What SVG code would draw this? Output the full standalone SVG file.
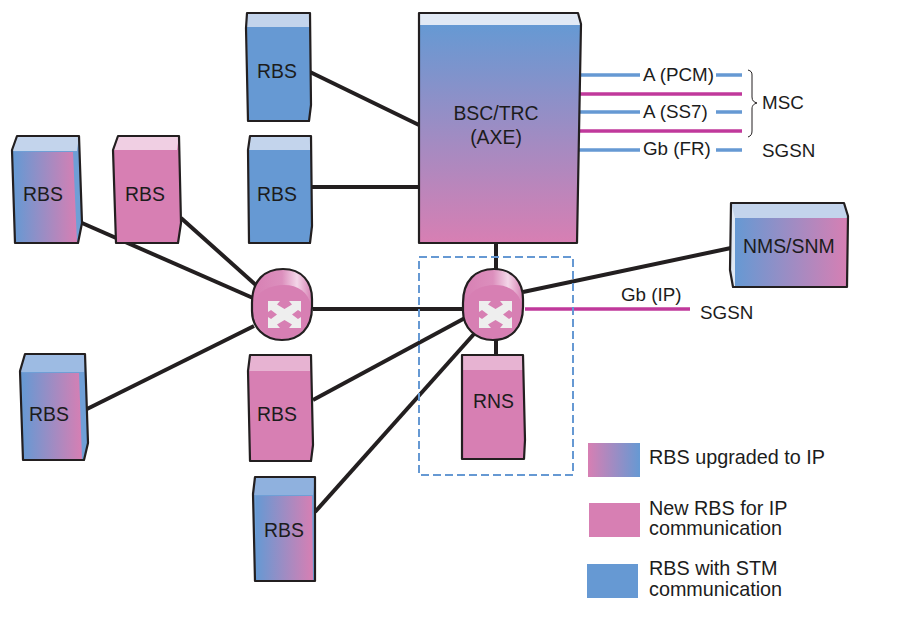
<svg xmlns="http://www.w3.org/2000/svg" xmlns:xlink="http://www.w3.org/1999/xlink" width="906" height="620" viewBox="0 0 906 620">
<style>
text{font-family:"Liberation Sans",Arial,sans-serif;font-size:19.4px;fill:#1c1c1c}
.lbl{font-size:18.800px}
.leg{font-size:19.800px}
.out{fill:none;stroke:#231f20;stroke-width:2.2;stroke-linejoin:round}
.k{stroke:#231f20;stroke-width:4;fill:none}
.b{stroke:#6699d3;stroke-width:3.6;fill:none}
.m{stroke:#c0399b;stroke-width:3.6;fill:none}
.blue{fill:#6699d3}.pink{fill:#d77fb3}
</style>
<defs>
<linearGradient id="v" x1="0" y1="0" x2="0" y2="1"><stop offset="0" stop-color="#6699d3"/><stop offset="1" stop-color="#d77fb3"/></linearGradient>
<linearGradient id="h" x1="0" y1="0" x2="1" y2="0"><stop offset="0" stop-color="#6699d3"/><stop offset="1" stop-color="#d77fb3"/></linearGradient>
<linearGradient id="hr" x1="0" y1="0" x2="1" y2="0"><stop offset="0" stop-color="#d77fb3"/><stop offset="1" stop-color="#6699d3"/></linearGradient>
<linearGradient id="sw" x1="0" y1="0" x2="1" y2="0"><stop offset="0" stop-color="#d77fb3"/><stop offset="0.5" stop-color="#dc8fbd"/><stop offset="0.75" stop-color="#f3d6e8"/><stop offset="1" stop-color="#d77fb3"/></linearGradient>
<g id="switch">
<path d="M0,34 C0,11 13,0 31,0 C50,0 60,13 60,30 L60,38 C60,60 47,71 30,71 C12,71 0,58 0,42 Z" fill="url(#sw)"/>
<path d="M2,34 C6,22 18,16 32,16 C46,16 56,23 59,36 C60,58 47,70 30,70 C13,70 2,56 2,34 Z" fill="#d77fb3"/>
<path d="M0,34 C0,11 13,0 31,0 C50,0 60,13 60,30 L60,38 C60,60 47,71 30,71 C12,71 0,58 0,42 Z" class="out"/>
<path d="M16,32 H28 L25,35.500 L32.500,40 L40,35.500 L37,32 H49 V43 L46,41 L40,45.500 L46,50 L49,48 V59 H37 L40,55.500 L32.500,51 L25,55.500 L28,59 H16 V48 L19,50 L25,45.500 L19,41 L16,43 Z" fill="#eeeeee"/>
</g>
</defs>

<g id="connectors">
<path class="k" d="M310,72 L419,125"/>
<path class="k" d="M311,187 H419"/>
<path class="k" d="M82,223 L253,298"/>
<path class="k" d="M181,218 L257,286"/>
<path class="k" d="M87,409 L254,326"/>
<path class="k" d="M313,309 H463"/>
<path class="k" d="M496,243 V269"/>
<path class="k" d="M523,292 L731,248"/>
<path class="k" d="M313,400 L465,318"/>
<path class="k" d="M315,512 L474,334"/>
<path class="k" d="M496,340 V355"/>
<path class="m" d="M525,309 H690"/>
<path class="b" d="M580,75 H640 M716,75 H742"/>
<path class="m" d="M580,94 H742"/>
<path class="b" d="M580,112 H640 M716,112 H742"/>
<path class="m" d="M580,131 H742"/>
<path class="b" d="M579,150 H640 M716,150 H742"/>
<path d="M748,70 C751,71 752,72 752,75 V97 C752,101 754,102 757,103 C754,104 752,105 752,109 V131 C752,134 751,136 748,137" fill="none" stroke="#231f20" stroke-width="1"/>
</g>

<g id="dashed-box"><rect x="419" y="257" width="154" height="218" fill="none" stroke="#6699d3" stroke-width="2" stroke-dasharray="8 4"/></g>

<g id="bsc">
<path d="M419,13 H578 L581,24 L577,243 H419 Z" fill="#e1e9f5"/>
<path d="M420,25 H581 L577,242 H420 Z" fill="url(#v)"/>
<path d="M419,13 H578 L581,24 L577,243 H419 Z" class="out"/>
<text x="496" y="120" text-anchor="middle">BSC/TRC</text>
<text x="496" y="144" text-anchor="middle">(AXE)</text>
</g>

<g id="rbs-top">
<path d="M247,13 H310 L311,105 L309,121 H248 L246,28 Z" fill="#c3d4ec"/>
<path d="M247,27 H310 L311,105 L309,120 H248 Z" class="blue"/>
<path d="M247,13 H310 L311,105 L309,121 H248 L246,28 Z" class="out"/>
<text x="257" y="78">RBS</text>
</g>

<g id="rbs-mid">
<path d="M250,136 H311 L312,226 L310,243 H249 L248,150 Z" fill="#c3d4ec"/>
<path d="M249,150 H311 L312,226 L310,242 H249 Z" class="blue"/>
<path d="M250,136 H311 L312,226 L310,243 H249 L248,150 Z" class="out"/>
<text x="257" y="201">RBS</text>
</g>

<g id="rbs-left-1">
<path d="M17,136 H79 L82,223 L78,243 H15 L12,150 Z" fill="#6f9fd6"/>
<path d="M17,136 H79 L77,151 H12 Z" fill="#c3d4ec"/>
<path d="M14,152 H73 L77,243 H16 Z" fill="url(#h)"/>
<path d="M17,136 H79 L82,223 L78,243 H15 L12,150 Z" class="out"/>
<text x="23" y="201">RBS</text>
</g>

<g id="rbs-left-2">
<path d="M118,136 H179 L181,223 L178,243 H116 L113,150 Z" class="pink"/>
<path d="M118,136 H179 L177,150 H114 Z" fill="#f0cfe3"/>
<path d="M118,136 H179 L181,223 L178,243 H116 L113,150 Z" class="out"/>
<text x="125" y="201">RBS</text>
</g>

<g id="rbs-left-3">
<path d="M25,354 H85 L88,443 L84,460 H23 L20,371 Z" fill="#6f9fd6"/>
<path d="M25,354 H85 L84,372 H20 Z" fill="#9dbbe3"/>
<path d="M22,373 H79 L82,459 H24 Z" fill="url(#h)"/>
<path d="M25,354 H85 L88,443 L84,460 H23 L20,371 Z" class="out"/>
<text x="29" y="421">RBS</text>
</g>

<g id="rbs-pink-bottom">
<path d="M250,355 H311 L313,445 L311,461 H250 L248,371 Z" class="pink"/>
<path d="M250,355 H311 L310,371 H248 Z" fill="#e7b3d2"/>
<path d="M250,355 H311 L313,445 L311,461 H250 L248,371 Z" class="out"/>
<text x="257" y="421">RBS</text>
</g>

<g id="rbs-mix-bottom">
<path d="M255,477 H315 V581 H255 L253,494 Z" fill="#6f9fd6"/>
<path d="M255,477 H315 L313,495 H254 Z" fill="#8fb1de"/>
<path d="M256,496 H312 L313,580 H256 Z" fill="url(#h)"/>
<path d="M255,477 H315 V581 H255 L253,494 Z" class="out"/>
<text x="264" y="537">RBS</text>
</g>

<g id="rns">
<path d="M462,355 H523 L525,440 L524,459 H462 Z" class="pink"/>
<path d="M462,355 H523 L524,370 H462 Z" fill="#e7b3d2"/>
<path d="M462,355 H523 L525,440 L524,459 H462 Z" class="out"/>
<text x="473" y="408">RNS</text>
</g>

<g id="nms">
<path d="M731,203 H844 L848,216 L847,287 H733 L730,270 Z" fill="#dfe8f4"/>
<path d="M731,203 H844 L848,218 H735 Z" fill="#c3d4ec"/>
<path d="M735,218 H848 L847,286 H735 Z" fill="url(#h)"/>
<path d="M731,203 H844 L848,216 L847,287 H733 L730,270 Z" class="out"/>
<text x="743" y="253">NMS/SNM</text>
</g>

<g id="switch-left"><use href="#switch" xlink:href="#switch" x="252" y="269"/></g>
<g id="switch-right"><use href="#switch" xlink:href="#switch" x="463" y="269"/></g>

<g id="labels">
<text class="lbl" x="643" y="81">A (PCM)</text>
<text class="lbl" x="643" y="118">A (SS7)</text>
<text class="lbl" x="643" y="155">Gb (FR)</text>
<text class="lbl" x="762" y="109">MSC</text>
<text class="lbl" x="762" y="157">SGSN</text>
<text class="lbl" x="621" y="301">Gb (IP)</text>
<text class="lbl" x="700" y="319">SGSN</text>
</g>

<g id="legend">
<rect x="588" y="443" width="52" height="34" fill="url(#hr)"/>
<rect x="589" y="503" width="51" height="34" class="pink"/>
<rect x="587" y="564" width="51" height="34" class="blue"/>
<text class="leg" x="649" y="464">RBS upgraded to IP</text>
<text class="leg" x="649" y="515">New RBS for IP</text>
<text class="leg" x="649" y="535">communication</text>
<text class="leg" x="649" y="575">RBS with STM</text>
<text class="leg" x="649" y="596">communication</text>
</g>
</svg>
